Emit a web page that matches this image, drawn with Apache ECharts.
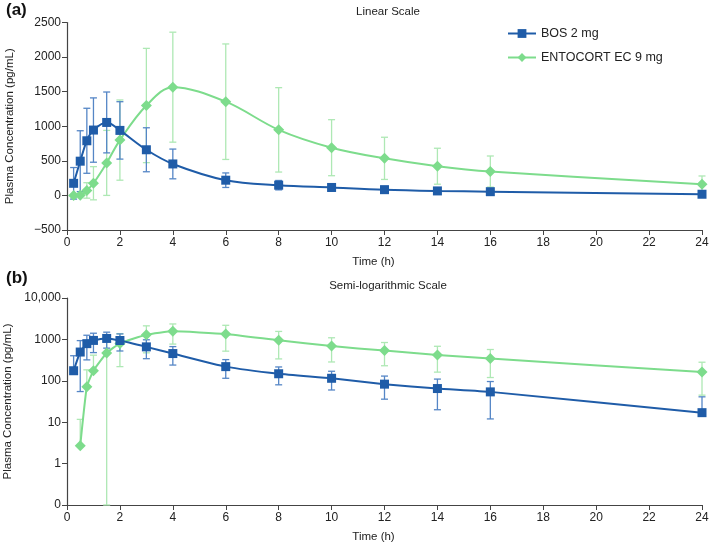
<!DOCTYPE html>
<html>
<head>
<meta charset="utf-8">
<script src="https://cdn.jsdelivr.net/npm/echarts@6/dist/echarts.min.js"></script>
<style>
html,body{margin:0;padding:0;background:#fff;}
#c{width:709px;height:545px;}
</style>
</head>
<body>
<div id="c"></div>
<script>
// ---- data ----
const time = [0.25, 0.5, 0.75, 1, 1.5, 2, 3, 4, 6, 8, 10, 12, 14, 16, 24];
const bosMean = [175, 495, 790, 945, 1055, 940, 660, 455, 220, 148, 115, 83, 65, 54, 17];
const bosSD   = [228, 440, 470, 465, 440, 415, 318, 215, 105, 68, 55, 47, 45, 42, 24];
const entMean = [0, 2.7, 72, 176, 470, 800, 1300, 1565, 1355, 948, 690, 536, 422, 345, 163];
const entSD   = [0, 9, 112, 240, 470, 580, 826, 795, 835, 610, 405, 305, 260, 225, 118];
const seriesNames = ['BOS 2 mg', 'ENTOCORT EC 9 mg'];
const linearTicks = {min: -500, max: 2500, interval: 500};
const logTickLabels = {'0.1': '0', '1': '1', '10': '10', '100': '100', '1000': '1000', '10000': '10,000'};
const xTicks = {min: 0, max: 24, interval: 2};

// ---- styles ----
const blue = '#1f5ca8', blueErr = '#5586c6';
const green = '#7ddc8c', greenErr = '#aee8b4';
const axisColor = '#444';
const font = 'Liberation Sans, Arial, sans-serif';

function errRender(isLog, color) {
  return function (params, api) {
    const x = api.value(0), m = api.value(1), sd = api.value(2);
    if (!(sd > 0)) return;
    const hi = m + sd, lo = m - sd;
    const pm = api.coord([x, m]);
    const ph = api.coord([x, hi]);
    let pl = null;
    if (isLog) { if (lo >= 0) pl = api.coord([x, Math.max(lo, 0.1)]); }
    else pl = api.coord([x, lo]);
    const cap = 3.5;
    const st = {stroke: color, lineWidth: 1.3};
    const ch = [
      {type: 'line', shape: {x1: ph[0], y1: ph[1], x2: ph[0], y2: pl ? pl[1] : pm[1]}, style: st},
      {type: 'line', shape: {x1: ph[0] - cap, y1: ph[1], x2: ph[0] + cap, y2: ph[1]}, style: st}
    ];
    if (pl) ch.push({type: 'line', shape: {x1: pl[0] - cap, y1: pl[1], x2: pl[0] + cap, y2: pl[1]}, style: st});
    return {type: 'group', children: ch};
  };
}

function rows(mean, sd, isLog) {
  const r = [];
  time.forEach((t, i) => { if (!isLog || mean[i] > 0) r.push([t, mean[i], sd[i]]); });
  return r;
}
function pts(mean, isLog) {
  return time.map((t, i) => [t, (isLog && mean[i] <= 0) ? null : mean[i]]);
}

const axisLabelStyle = {color: '#222', fontSize: 12, fontFamily: font};
function xAxis(gi) {
  return {
    type: 'value', gridIndex: gi, min: xTicks.min, max: xTicks.max, interval: xTicks.interval,
    name: 'Time (h)', nameLocation: 'middle', nameGap: 26,
    nameTextStyle: {color: '#222', fontSize: 11.5, fontFamily: font, padding: [0, 22, 0, 0]},
    axisLine: {show: true, onZero: false, lineStyle: {color: axisColor, width: 1.2}},
    axisTick: {show: true, length: 5, lineStyle: {color: axisColor}},
    axisLabel: Object.assign({margin: 7}, axisLabelStyle),
    splitLine: {show: false}
  };
}
const yName = 'Plasma Concentration (pg/mL)';

const option = {
  backgroundColor: '#fff',
  animation: false,
  textStyle: {fontFamily: font},
  title: [
    {text: 'Linear Scale', left: 383, top: 1, textAlign: 'center', textStyle: {fontSize: 11.5, fontWeight: 'normal', color: '#222', fontFamily: font}},
    {text: 'Semi-logarithmic Scale', left: 383, top: 275, textAlign: 'center', textStyle: {fontSize: 11.5, fontWeight: 'normal', color: '#222', fontFamily: font}}
  ],
  legend: {
    orient: 'vertical', left: 502, top: 22, itemWidth: 28, itemHeight: 11, itemGap: 11,
    data: seriesNames,
    textStyle: {fontSize: 12.5, color: '#222', fontFamily: font}
  },
  graphic: [
    {type: 'text', left: 6, top: 2, style: {text: '(a)', font: 'bold 17px ' + font, fill: '#111'}},
    {type: 'text', left: 6, top: 270, style: {text: '(b)', font: 'bold 17px ' + font, fill: '#111'}}
  ],
  grid: [
    {left: 67, top: 22.5, width: 635, height: 207.5, outerBoundsMode: 'none', containLabel: false},
    {left: 67, top: 298, width: 635, height: 207, outerBoundsMode: 'none', containLabel: false}
  ],
  xAxis: [xAxis(0), xAxis(1)],
  yAxis: [
    {
      type: 'value', gridIndex: 0, min: linearTicks.min, max: linearTicks.max, interval: linearTicks.interval,
      name: yName, nameLocation: 'middle', nameGap: 51,
      nameTextStyle: {color: '#222', fontSize: 11.5, fontFamily: font},
      axisLine: {show: true, lineStyle: {color: axisColor, width: 1.2}},
      axisTick: {show: true, length: 5, lineStyle: {color: axisColor}},
      axisLabel: Object.assign({margin: 6, formatter: v => v < 0 ? '\u2212' + Math.abs(v) : String(v)}, axisLabelStyle),
      splitLine: {show: false}
    },
    {
      type: 'log', logBase: 10, gridIndex: 1, min: 0.1, max: 10000,
      name: yName, nameLocation: 'middle', nameGap: 51,
      nameTextStyle: {color: '#222', fontSize: 11.5, fontFamily: font},
      axisLine: {show: true, lineStyle: {color: axisColor, width: 1.2}},
      axisTick: {show: true, length: 5, lineStyle: {color: axisColor}},
      axisLabel: Object.assign({margin: 6, formatter: v => {
        const k = String(Math.round(v * 10) / 10);
        return logTickLabels[k] !== undefined ? logTickLabels[k] : k;
      }}, axisLabelStyle),
      splitLine: {show: false},
      minorTick: {show: false}
    }
  ],
  series: [
    // linear
    {type: 'custom', name: 'entErrLin', xAxisIndex: 0, yAxisIndex: 0, renderItem: errRender(false, greenErr), data: rows(entMean, entSD, false), encode: {x: 0, y: 1}, z: 1, silent: true},
    {type: 'custom', name: 'bosErrLin', xAxisIndex: 0, yAxisIndex: 0, renderItem: errRender(false, blueErr), data: rows(bosMean, bosSD, false), encode: {x: 0, y: 1}, z: 2, silent: true},
    {type: 'line', name: seriesNames[1], xAxisIndex: 0, yAxisIndex: 0, data: pts(entMean, false), smooth: 0.35,
      symbol: 'diamond', symbolSize: 11, itemStyle: {color: green}, lineStyle: {color: green, width: 2}, z: 3},
    {type: 'line', name: seriesNames[0], xAxisIndex: 0, yAxisIndex: 0, data: pts(bosMean, false), smooth: 0.35,
      symbol: 'rect', symbolSize: 9, itemStyle: {color: blue}, lineStyle: {color: blue, width: 2}, z: 4},
    // log
    {type: 'custom', name: 'entErrLog', xAxisIndex: 1, yAxisIndex: 1, renderItem: errRender(true, greenErr), data: rows(entMean, entSD, true), encode: {x: 0, y: 1}, z: 1, silent: true},
    {type: 'custom', name: 'bosErrLog', xAxisIndex: 1, yAxisIndex: 1, renderItem: errRender(true, blueErr), data: rows(bosMean, bosSD, true), encode: {x: 0, y: 1}, z: 2, silent: true},
    {type: 'line', name: seriesNames[1], xAxisIndex: 1, yAxisIndex: 1, data: pts(entMean, true), smooth: 0.15,
      symbol: 'diamond', symbolSize: 11, itemStyle: {color: green}, lineStyle: {color: green, width: 2}, z: 3},
    {type: 'line', name: seriesNames[0], xAxisIndex: 1, yAxisIndex: 1, data: pts(bosMean, true), smooth: 0.15,
      symbol: 'rect', symbolSize: 9, itemStyle: {color: blue}, lineStyle: {color: blue, width: 2}, z: 4}
  ]
};
const chart = echarts.init(document.getElementById('c'), null, {renderer: 'canvas'});
chart.setOption(option);
</script>
</body>
</html>
